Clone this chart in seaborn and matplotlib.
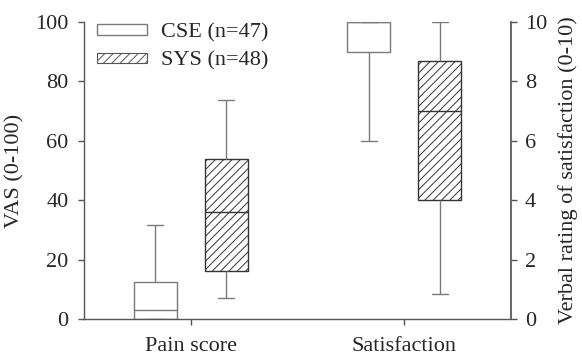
import matplotlib
matplotlib.use("Agg")
import matplotlib.pyplot as plt
from matplotlib import font_manager
import seaborn as sns
import pandas as pd
from matplotlib.patches import Patch

# Five-number summaries (min, Q1, median, Q3, max)
categories = ["Pain score", "Satisfaction"]
groups = ["CSE (n=47)", "SYS (n=48)"]
pain_cse = [0, 0, 3, 12.6, 31.7]          # VAS 0-100
pain_sys = [7, 16.2, 36, 54, 73.6]        # VAS 0-100
sat_cse = [6, 9, 10, 10, 10]              # verbal rating 0-10
sat_sys = [0.85, 4, 7, 8.7, 10]           # verbal rating 0-10
left_ticks = [0, 20, 40, 60, 80, 100]
right_ticks = [0, 2, 4, 6, 8, 10]

rows = []
for v in pain_cse:
    rows.append(("Pain score", groups[0], v))
for v in pain_sys:
    rows.append(("Pain score", groups[1], v))
for v in sat_cse:
    rows.append(("Satisfaction", groups[0], v * 10))
for v in sat_sys:
    rows.append(("Satisfaction", groups[1], v * 10))
df = pd.DataFrame(rows, columns=["cat", "group", "val"])

# make sure a Times-like serif is registered
for path in font_manager.findSystemFonts():
    low = path.lower()
    if "liberationserif" in low.replace("-", "").replace("_", "") or "tinos" in low or "times" in low:
        try:
            font_manager.fontManager.addfont(path)
        except Exception:
            pass
names = {f.name for f in font_manager.fontManager.ttflist}
serif = "DejaVu Serif"
for cand in ["Liberation Serif", "Times New Roman", "Tinos", "Nimbus Roman", "Nimbus Roman No9 L", "FreeSerif"]:
    if cand in names:
        serif = cand
        break

sns.set_theme(style="white")
plt.rcParams["font.family"] = [serif, "DejaVu Serif"]
plt.rcParams["hatch.linewidth"] = 0.7
plt.rcParams["hatch.color"] = "#333333"

FS = 16
fig = plt.figure(figsize=(5.82, 3.57), dpi=100)
ax = fig.add_axes([84 / 582, 1 - 319 / 357, (511 - 84) / 582, (319 - 22) / 357])

line_c = "#7a7a7a"
sns.boxplot(data=df, x="cat", y="val", hue="group", order=categories,
            hue_order=groups, palette={groups[0]: "white", groups[1]: "white"},
            whis=(0, 100), width=0.667, gap=0.4, linecolor=line_c,
            linewidth=1.0, fliersize=0, ax=ax, legend=False)

for p in ax.patches:
    verts = p.get_path().vertices
    cx = (verts[:, 0].min() + verts[:, 0].max()) / 2
    if cx - round(cx) > 0:
        p.set_hatch("////")
        p.set_edgecolor("#333333")

# shorten caps, darken SYS medians
for ln in ax.lines:
    xd = list(ln.get_xdata())
    yd = list(ln.get_ydata())
    if len(xd) == 2 and yd[0] == yd[1] and abs(xd[1] - xd[0]) > 0:
        c = (xd[0] + xd[1]) / 2
        w = abs(xd[1] - xd[0])
        if w < 0.15:
            ln.set_xdata([c - 0.0375, c + 0.0375])
        if c - round(c) > 0 and w > 0.15:
            ln.set_color("#333333")

ax.set_xlim(-0.5, 1.5)
ax.set_ylim(0, 100)
ax.set_yticks(left_ticks)
ax.set_xlabel("")
ax.set_ylabel("VAS (0-100)", fontsize=FS, labelpad=8)
ax.tick_params(axis="both", labelsize=FS, direction="out", length=4,
               width=1, color="#555555", left=True, bottom=True)
ax.tick_params(axis="y", pad=7)
ax.tick_params(axis="x", pad=9)
for s in ["left", "bottom"]:
    ax.spines[s].set_color("#555555")
    ax.spines[s].set_linewidth(1)
ax.spines["top"].set_visible(False)
ax.spines["right"].set_visible(False)

ax2 = ax.twinx()
ax2.set_ylim(0, 10)
ax2.set_yticks(right_ticks)
ax2.set_ylabel("Verbal rating of satisfaction (0-10)", fontsize=FS, labelpad=8)
ax2.tick_params(axis="y", labelsize=FS, direction="out", length=4, width=1,
                color="#555555", right=True, pad=6)
ax2.spines["right"].set_color("#555555")
ax2.spines["top"].set_visible(False)
ax2.spines["left"].set_visible(False)
ax2.spines["bottom"].set_visible(False)
ax2.grid(False)

handles = [Patch(facecolor="white", edgecolor=line_c, linewidth=1.0),
           Patch(facecolor="white", edgecolor="#555555", hatch="////", linewidth=0.8)]
ax.legend(handles, groups, loc="upper left", bbox_to_anchor=(0.0, 1.04),
          frameon=False, fontsize=FS, handlelength=2.25, handleheight=0.35,
          labelspacing=0.4, handletextpad=0.6, borderaxespad=0.2)

fig.savefig("out.png", dpi=100)
